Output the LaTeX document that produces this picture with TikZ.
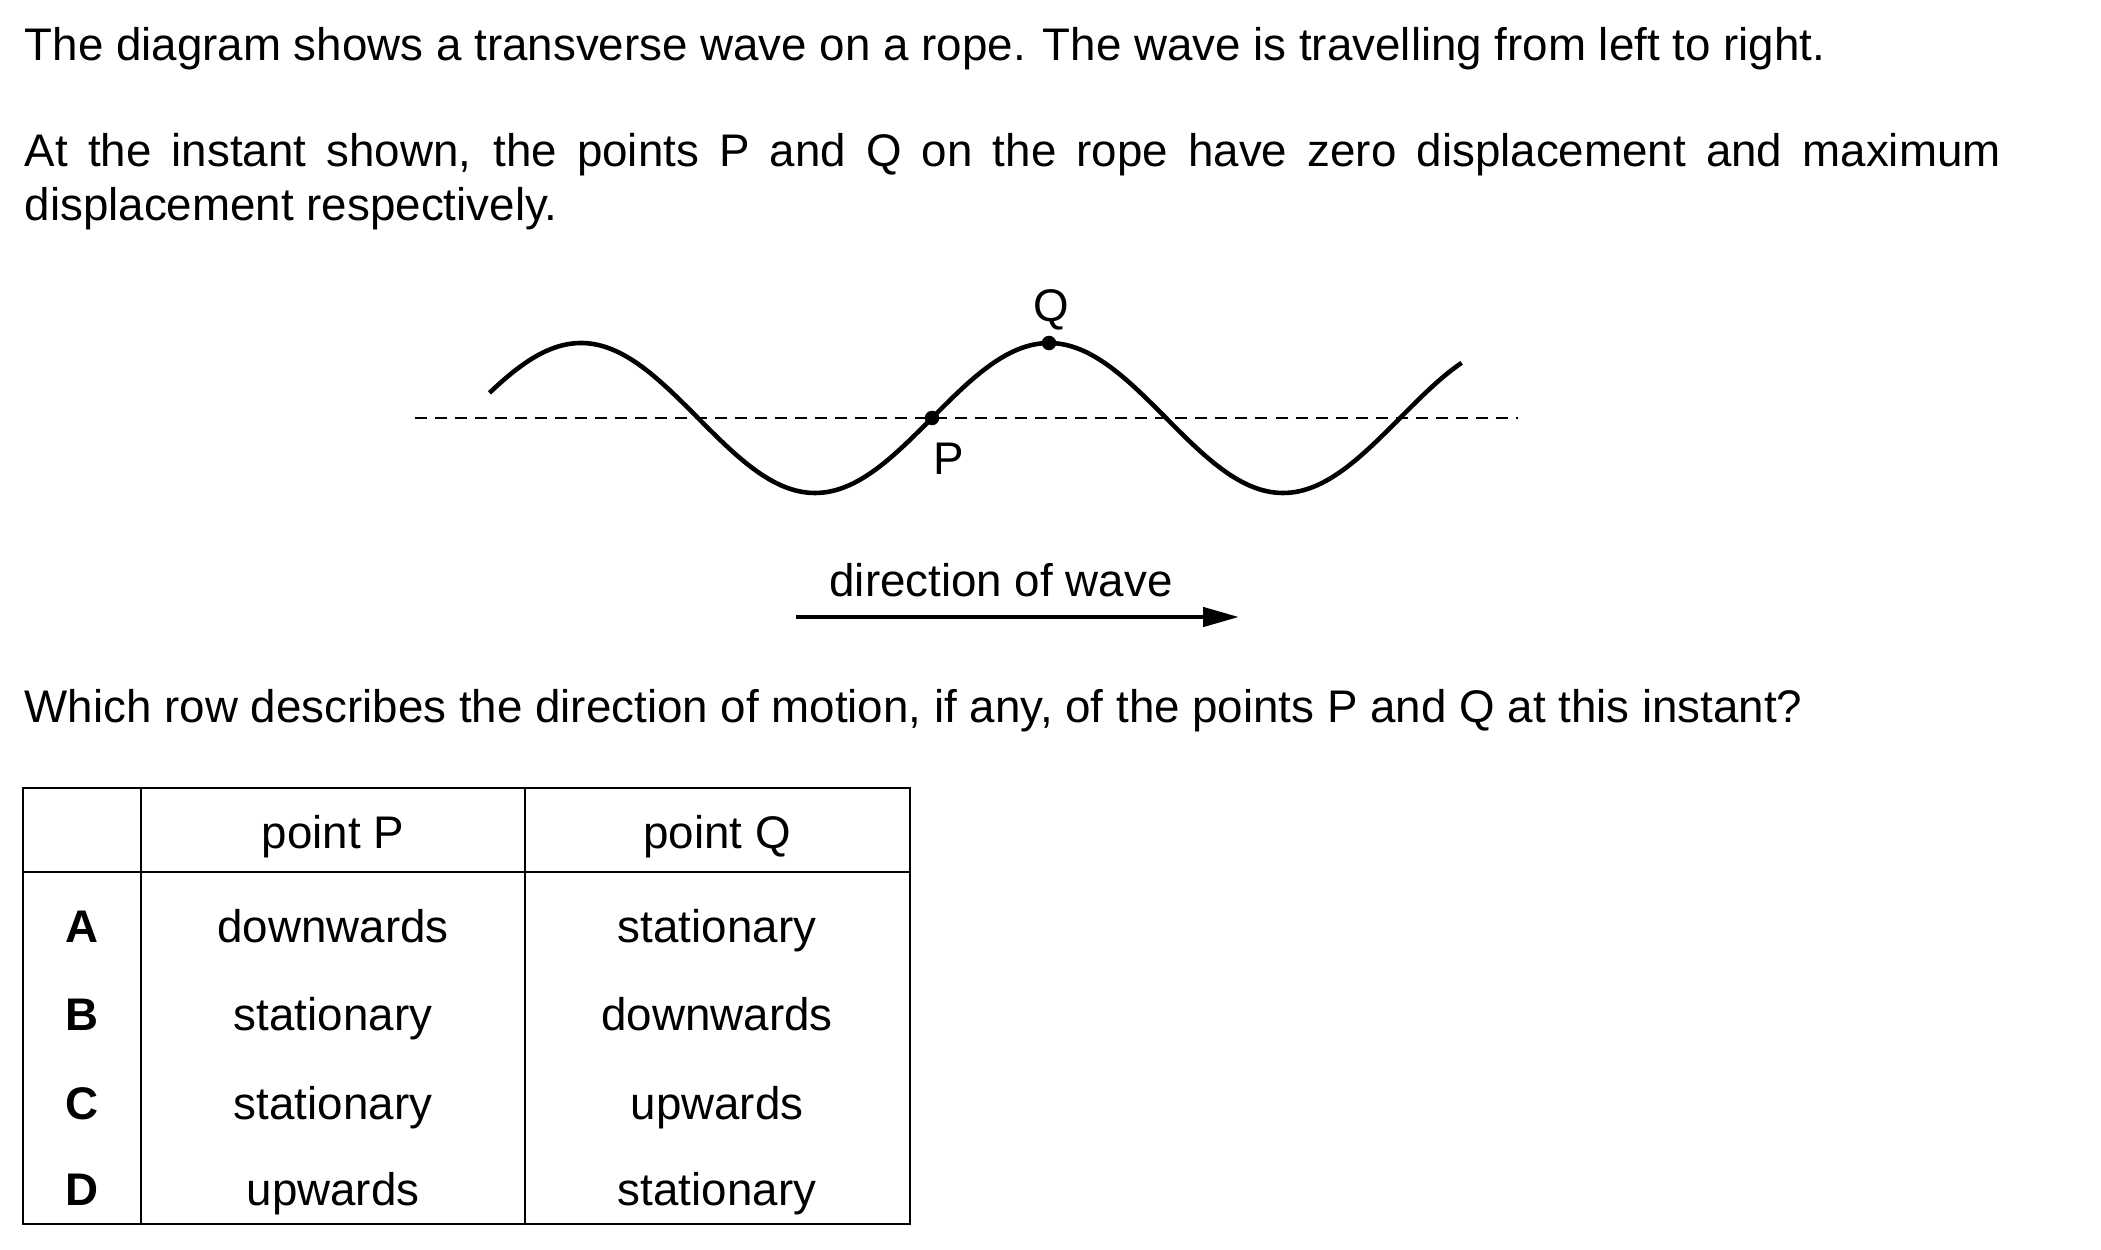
\documentclass[tikz,border=0pt]{standalone}
\usepackage{fontspec}
\setmainfont{Liberation Sans}
\usetikzlibrary{arrows.meta}
\begin{document}
\begin{tikzpicture}[x=0.01cm, y=-0.01cm,
  txt/.style={inner sep=0pt, anchor=base west, font=\fontsize{13}{15.6}\selectfont},
  ctxt/.style={inner sep=0pt, anchor=base, font=\fontsize{13}{15.6}\selectfont},
  lbl/.style={inner sep=0pt, anchor=center, font=\fontsize{13}{15.6}\selectfont},
  dot/.style={circle, fill=black, inner sep=0pt, minimum size=0.145cm},
  wave/.style={line width=1.3pt},
  axis/.style={line width=0.85pt, dash pattern=on 0.12cm off 0.08cm},
  dirarrow/.style={line width=1.3pt, -{Triangle[length=0.36cm, width=0.19cm]}},
  grid/.style={line width=0.7pt}]
\useasboundingbox (0,0) rectangle (2101,1249);
% question text
\node[txt] (t1) at (24,61) {The diagram shows a transverse wave on a rope. The wave is travelling from left to right.};
\node[txt] (t2) at (24,167) {\makebox[19.75cm][s]{At the instant shown, the points P and Q on the rope have zero displacement and maximum}};
\node[txt] (t3) at (24,221) {displacement respectively.};
% wave
\coordinate (dl) at (415,418);
\coordinate (dr) at (1518,418);
\draw[axis] (dl) -- (dr);
\draw[wave] plot[domain=489.5:1461.6, samples=240, smooth] (\x, {418 - 75*sin(((\x-932)/468)*360)});
\node[dot] (P) at (932,418) {};
\node[dot] (Q) at (1049,343) {};
\node[lbl] (Plbl) at (949,459) {P};
\node[lbl] (Qlbl) at (1051,310) {Q};
% direction arrow
\node[ctxt] (dir) at (1001,596) {direction of wave};
\coordinate (a1) at (796,617);
\coordinate (a2) at (1239,617);
\draw[dirarrow] (a1) -- (a2);
% question
\node[txt] (t4) at (24,722) {Which row describes the direction of motion, if any, of the points P and Q at this instant?};
% table
\draw[grid] (23,788) rectangle (910,1224);
\draw[grid] (23,872) -- (910,872);
\draw[grid] (141,788) -- (141,1224);
\draw[grid] (525,788) -- (525,1224);
\node[ctxt] (hP) at (333,848) {point P};
\node[ctxt] (hQ) at (717,848) {point Q};
\node[ctxt] (rA) at (82,942) {\bfseries A};
\node[ctxt] (rB) at (82,1030) {\bfseries B};
\node[ctxt] (rC) at (82,1119) {\bfseries C};
\node[ctxt] (rD) at (82,1205) {\bfseries D};
\node[ctxt] (pA) at (333,942) {downwards};
\node[ctxt] (pB) at (333,1030) {stationary};
\node[ctxt] (pC) at (333,1119) {stationary};
\node[ctxt] (pD) at (333,1205) {upwards};
\node[ctxt] (qA) at (717,942) {stationary};
\node[ctxt] (qB) at (717,1030) {downwards};
\node[ctxt] (qC) at (717,1119) {upwards};
\node[ctxt] (qD) at (717,1205) {stationary};
\end{tikzpicture}
\end{document}
